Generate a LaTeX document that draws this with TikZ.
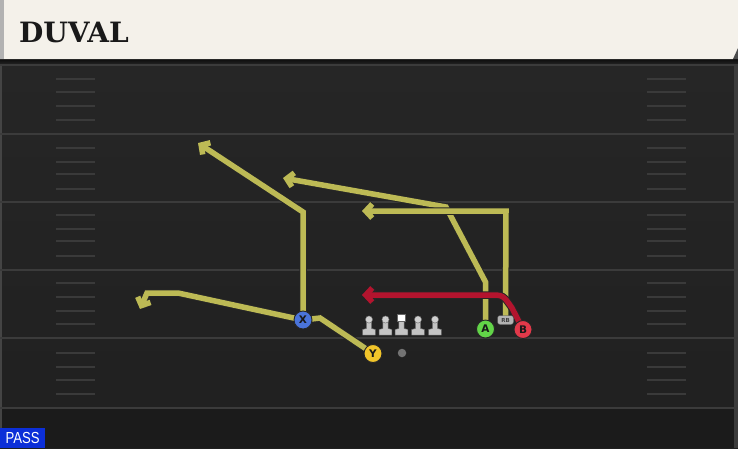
\documentclass[tikz,border=0pt]{standalone}
\usepackage{fontspec}
\usepackage{graphicx}
\setmainfont{DejaVu Sans}
\newfontfamily\titlefont{DejaVu Serif}
\newfontfamily\passfont{Liberation Sans}
\usetikzlibrary{arrows.meta}
\definecolor{hdr}{HTML}{F4F1EA}
\definecolor{fieldtop}{HTML}{262626}
\definecolor{fieldbot}{HTML}{202020}
\definecolor{yardline}{HTML}{3B3B3B}
\definecolor{hashc}{HTML}{3A3A3A}
\definecolor{routey}{HTML}{BDBA55}
\definecolor{router}{HTML}{B3142E}
\definecolor{pblue}{HTML}{4A74DA}
\definecolor{pyellow}{HTML}{F2C52A}
\definecolor{pgreen}{HTML}{62D448}
\definecolor{pred}{HTML}{E2394A}
\definecolor{passblue}{HTML}{0C2FD8}
\definecolor{lmgray}{HTML}{C4C4C4}
\pgfdeclarelayer{bg}
\pgfdeclarelayer{routes}
\pgfsetlayers{bg,routes,main}
\tikzset{
  yard/.style={draw=yardline, line width=2pt},
  hashmark/.style={draw=hashc, line width=1.6pt},
  route/.style={draw=routey, line width=5.5pt, line join=miter,
    preaction={draw=black!85, line width=7.5pt}},
  redroute/.style={draw=router, line width=5.5pt, line join=round,
    preaction={draw=black!85, line width=7.5pt}},
  tip/.style={-{Straight Barb[length=6.5pt,width=14pt]}},
  player/.style={circle, draw=black!85, line width=0.9pt, minimum size=18pt,
    inner sep=0pt, font=\bfseries\fontsize{10.5}{10.5}\selectfont, text=black!90},
  lineman/.pic={
    \fill[lmgray, draw=black!60, line width=0.4pt]
      (-2.6,1) -- (-2.6,9) -- (-6.4,10) -- (-6.4,15.5) -- (6.4,15.5) -- (6.4,10)
      -- (2.6,9) -- (2.6,1) -- cycle;
    \fill[lmgray!80!white, draw=black!60, line width=0.4pt] (0,0) circle (3.6pt);
  },
  centerman/.pic={
    \fill[lmgray, draw=black!60, line width=0.4pt]
      (-2.6,1) -- (-2.6,9) -- (-6.4,10) -- (-6.4,15.5) -- (6.4,15.5) -- (6.4,10)
      -- (2.6,9) -- (2.6,1) -- cycle;
    \fill[white, draw=black!60, line width=0.4pt] (-4,-5.5) rectangle (4,1.5);
  }
}
\begin{document}
\begin{tikzpicture}[x=1pt,y=-1pt]
\useasboundingbox (0,0) rectangle (738,448);
\begin{pgfonlayer}{bg}
  % field
  \shade[top color=fieldtop, bottom color=fieldbot] (0,59) rectangle (738,448);
  \fill[black!15!fieldbot] (0,408) rectangle (738,448);
  \fill[white!14!fieldtop] (0,62) rectangle (2,448);
  \fill[white!10!fieldtop] (734,62) rectangle (738,448);
  % header shadow
  \shade[top color=black!95, bottom color=fieldtop] (0,59) rectangle (738,65);
  % header
  \fill[hdr] (0,0) -- (738,0) -- (738,48) -- (733,59) -- (0,59) -- cycle;
  \fill[black!30] (0,0) rectangle (4,59);
  \fill[black!70] (738,48) -- (733,59) -- (738,59) -- cycle;
  \node[anchor=west, inner sep=0pt, text=black!90,
    font=\titlefont\bfseries\fontsize{28}{28}\selectfont] (title) at (19,32) {DUVAL};
  % yard lines
  \foreach \yy in {65,133.5,201.5,270,338,408}
    \draw[yard] (0,\yy) -- (738,\yy);
  % hash marks
  \foreach \yy in {79,92,106,120,148,162,174,189,215,229,241,256,283,297,311,324,353,367,380,394}{
    \draw[hashmark] (56,\yy) -- (95,\yy);
    \draw[hashmark] (647,\yy) -- (686,\yy);
  }
\end{pgfonlayer}

% players
\node[player, fill=pblue] (X) at (303,320) {X};
\node[player, fill=pyellow] (Y) at (373,353.5) {Y};
\node[player, fill=pgreen] (A) at (485.5,329) {A};
\node[player, fill=pred] (B) at (523,329.5) {B};
\node[rectangle, rounded corners=2.5pt, fill=black!30, draw=black!70, line width=0.4pt,
  minimum width=16pt, minimum height=9pt, inner sep=0pt,
  font=\bfseries\fontsize{5.5}{5.5}\selectfont, text=black!75] (RB) at (505.5,320) {RB};
\node[circle, fill=black!55, minimum size=8.5pt, inner sep=0pt] (ball) at (402,353) {};
\pic at (369,319.5) {lineman};
\pic at (385.5,319.5) {lineman};
\pic at (401.5,319.5) {centerman};
\pic at (418,319.5) {lineman};
\pic at (435,319.5) {lineman};

% route corner coordinates
\coordinate (x1) at (303,212);
\coordinate (xe) at (198,143);
\coordinate (y1) at (320,318);
\coordinate (y2) at (178,293);
\coordinate (y3) at (147,293);
\coordinate (ye) at (140,309);
\coordinate (a1) at (485.5,282);
\coordinate (a2) at (446,207);
\coordinate (ae) at (283,178);
\coordinate (r1) at (506,211);
\coordinate (re) at (362,211);
\coordinate (b1) at (512,308);
\coordinate (b2) at (490,295);
\coordinate (be) at (362,295);

\begin{pgfonlayer}{routes}
  \draw[route, tip] (X.center) -- (x1) -- (xe);
  \draw[route, tip] (Y.center) -- (y1) -- (X.center) -- (y2) -- (y3) -- (ye);
  \draw[route, tip] (A.center) -- (a1) -- (a2) -- (ae);
  \draw[route, tip] (RB.center) -- (r1) -- (re);
  \draw[redroute, tip] (B.center) -- (b1) .. controls (503,295) .. (b2) -- (be);
\end{pgfonlayer}

% PASS label
\node[anchor=south west, fill=passblue, minimum width=45pt, minimum height=20pt,
  inner sep=0pt, text=white, font=\passfont\fontsize{16}{16}\selectfont] (pass) at (0,448)
  {\scalebox{0.82}[1]{PASS}};
\end{tikzpicture}
\end{document}
